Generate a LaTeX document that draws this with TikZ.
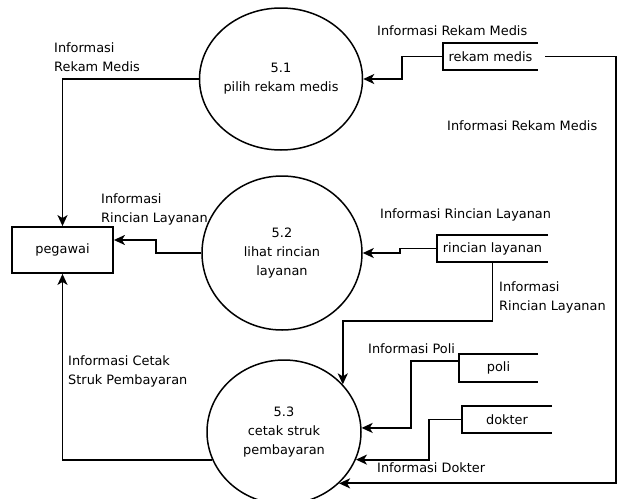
\documentclass[tikz,border=0pt]{standalone}
\usepackage{fontspec}
\setmainfont{DejaVu Sans}
\usetikzlibrary{shapes.geometric,arrows.meta}

\begin{document}
\begin{tikzpicture}[x=1pt, y=-1pt, font=\fontsize{12.9}{19}\selectfont]
    \tikzset{
        process/.style={
            draw, ellipse, line width=1.5pt, inner sep=0pt, align=center,
        },
        entity/.style={
            draw, rectangle, line width=1.8pt, minimum width=101pt, minimum height=46pt,
        },
        store/.style={
            rectangle, inner sep=0pt, minimum height=27pt,
        },
        flow/.style={
            line width=1.8pt, -{Stealth[length=11pt, width=10pt, inset=3pt]},
        },
        lbl/.style={
            anchor=west, align=left, inner sep=0pt,
        },
    }
    \useasboundingbox (0,0) rectangle (618,498);

    % Processes
    \node[process, minimum width=163pt, minimum height=142pt] (p1) at (281,79) {5.1\\pilih rekam medis};
    \node[process, minimum width=160pt, minimum height=154pt] (p2) at (282,253) {5.2\\lihat rincian\\layanan};
    \node[process, minimum width=154pt, minimum height=144pt] (p3) at (284,432) {5.3\\cetak struk\\pembayaran};

    % External entity
    \node[entity] (peg) at (62.5,250) {pegawai};

    % Data stores
    \node[store, minimum width=95pt] (rm) at (490.5,56.5) {rekam medis};
    \node[store, minimum width=111pt] (rl) at (492.5,248.5) {rincian layanan};
    \node[store, minimum width=79pt, minimum height=28pt] (poli) at (498.5,368) {poli};
    \node[store, minimum width=90pt] (dok) at (507,419.5) {dokter};
    \foreach \s in {rm, rl, poli, dok}
        \draw[line width=1.8pt] (\s.north east) -- (\s.north west) -- (\s.south west) -- (\s.south east);

    % Flows
    \draw[flow] (p1.west) -| (peg.north);
    \draw[flow] (p2.west) -- ++(-45,0) |- ([yshift=10pt]peg.east);
    \draw[flow] (p3.201) -| (peg.south);
    \draw[flow] (rm.west) -- ++(-41,0) |- (p1.east);
    \draw[flow] ([xshift=7pt]rm.east) -- ++(71,0) |- (p3.-43);
    \draw[flow] (rl.west) -- ++(-37,0) |- (p2.east);
    \draw[flow] (rl.south) -- ++(0,59) -| (p3.39);
    \draw[flow] ([yshift=7pt]poli.west) -- ++(-48,0) |- (p3.3);
    \draw[flow] (dok.west) -- ++(-33,0) |- (p3.-21);

    % Labels
    \node[lbl] (l1) at (54,57.5) {Informasi\\Rekam Medis};
    \node[lbl] (l2) at (101,209.5) {Informasi\\Rincian Layanan};
    \node[lbl] (l3) at (68,371) {Informasi Cetak\\Struk Pembayaran};
    \node[lbl] (l4) at (377,31) {Informasi Rekam Medis};
    \node[lbl] (l5) at (447,126) {Informasi Rekam Medis};
    \node[lbl] (l6) at (380,215) {Informasi Rincian Layanan};
    \node[lbl] (l7) at (499,297) {Informasi\\Rincian Layanan};
    \node[lbl] (l8) at (368,349) {Informasi Poli};
    \node[lbl] (l9) at (377,468) {Informasi Dokter};
\end{tikzpicture}
\end{document}
